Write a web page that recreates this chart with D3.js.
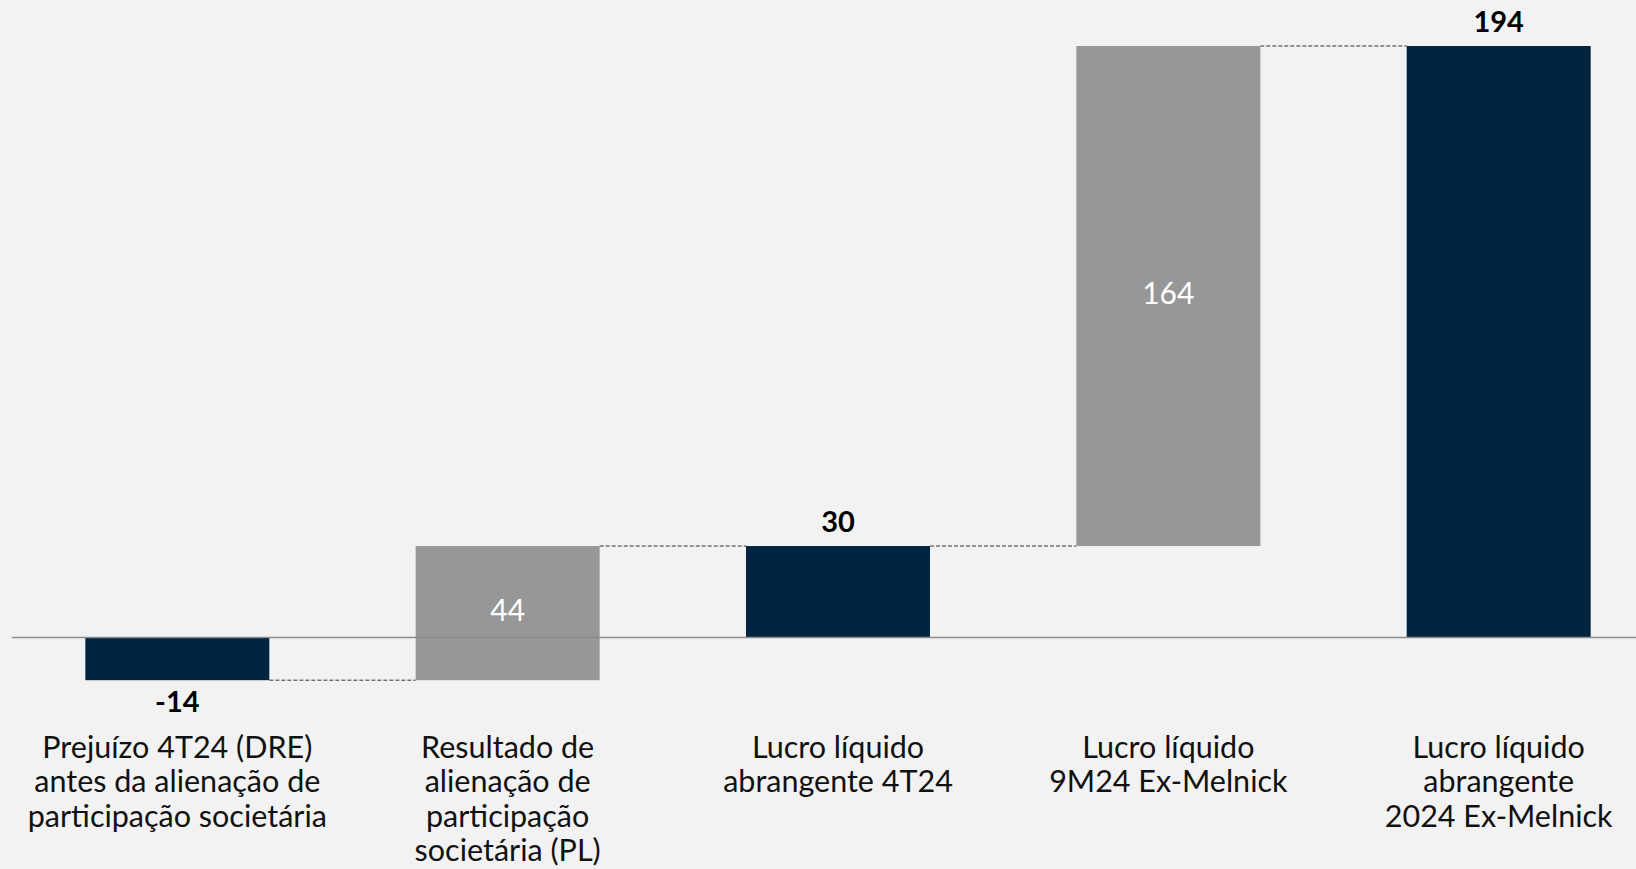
<!DOCTYPE html>
<html>
<head>
<meta charset="utf-8">
<script src="https://cdn.jsdelivr.net/npm/d3@7"></script>
<style>
  html, body { margin: 0; padding: 0; background: #f2f2f2; overflow: hidden; }
  svg { display: block; font-family: Lato, "Noto Sans", sans-serif; }
</style>
</head>
<body>
<script>
var width = 1636,
    height = 869;

// data
var categories = [
  ["Prejuízo 4T24 (DRE)", "antes da alienação de", "participação societária"],
  ["Resultado de", "alienação de", "participação", "societária (PL)"],
  ["Lucro líquido", "abrangente 4T24"],
  ["Lucro líquido", "9M24 Ex-Melnick"],
  ["Lucro líquido", "abrangente", "2024 Ex-Melnick"]
];
var values = [-14, 44, 30, 164, 194];
var kinds = ["total", "delta", "total", "delta", "total"];

var navy = "#012540",
    grey = "#979797";

// build start/end for each step
var running = 0;
var steps = values.map(function(v, i) {
  var s;
  if (kinds[i] === "total") { s = { y0: 0, y1: v }; running = v; }
  else { s = { y0: running, y1: running + v }; running += v; }
  s.i = i; s.value = v; s.kind = kinds[i];
  return s;
});

var x = d3.scaleBand()
    .domain(d3.range(values.length))
    .range([12, 1664])
    .paddingInner(0.443)
    .paddingOuter(0.222);

var y = d3.scaleLinear()
    .domain([0, 194])
    .range([637.5, 46]);

var svg = d3.select("body").append("svg")
    .attr("width", width)
    .attr("height", height);

svg.append("rect").attr("width", width).attr("height", height).attr("fill", "#f2f2f2");

// connectors
svg.selectAll(".link")
  .data(steps.slice(0, -1))
  .enter().append("line")
    .attr("class", "link")
    .attr("x1", function(d) { return x(d.i) + x.bandwidth(); })
    .attr("x2", function(d) { return x(d.i + 1); })
    .attr("y1", function(d) { return y(d.y1); })
    .attr("y2", function(d) { return y(d.y1); })
    .attr("stroke", "#333")
    .attr("stroke-width", 1)
    .attr("stroke-dasharray", "4,2");

// bars
svg.selectAll(".bar")
  .data(steps)
  .enter().append("rect")
    .attr("class", "bar")
    .attr("x", function(d) { return x(d.i); })
    .attr("width", x.bandwidth())
    .attr("y", function(d) { return y(Math.max(d.y0, d.y1)); })
    .attr("height", function(d) { return Math.abs(y(d.y0) - y(d.y1)); })
    .attr("fill", function(d) { return d.kind === "total" ? navy : grey; });

// zero line
svg.append("line")
    .attr("x1", 12).attr("x2", width)
    .attr("y1", y(0)).attr("y2", y(0))
    .attr("stroke", "#8c8c8c")
    .attr("stroke-width", 1.5);

// value labels
svg.selectAll(".val")
  .data(steps)
  .enter().append("text")
    .attr("class", "val")
    .attr("x", function(d) { return x(d.i) + x.bandwidth() / 2; })
    .attr("y", function(d) {
      if (d.kind === "delta") return (y(d.y0) + y(d.y1)) / 2 - 3;
      return d.value < 0 ? y(d.y1) + 21 : y(d.y1) - 24;
    })
    .attr("dy", "0.36em")
    .attr("text-anchor", "middle")
    .attr("font-size", function(d) { return d.kind === "total" ? 29 : 30; })
    .attr("font-weight", function(d) { return d.kind === "total" ? 700 : 400; })
    .attr("fill", function(d) { return d.kind === "total" ? "#000" : "#fff"; })
    .text(function(d) { return d.value; });

// category labels
var cat = svg.selectAll(".cat")
  .data(categories)
  .enter().append("text")
    .attr("class", "cat")
    .attr("text-anchor", "middle")
    .attr("font-size", 30.5)
    .attr("font-weight", 400)
    .attr("fill", "#111");

cat.selectAll("tspan")
  .data(function(d, i) { return d.map(function(t, j) { return { t: t, i: i, j: j }; }); })
  .enter().append("tspan")
    .attr("x", function(d) { return x(d.i) + x.bandwidth() / 2; })
    .attr("y", function(d) { return 747 + d.j * 34.5; })
    .attr("dy", "0.36em")
    .text(function(d) { return d.t; });
</script>
</body>
</html>
